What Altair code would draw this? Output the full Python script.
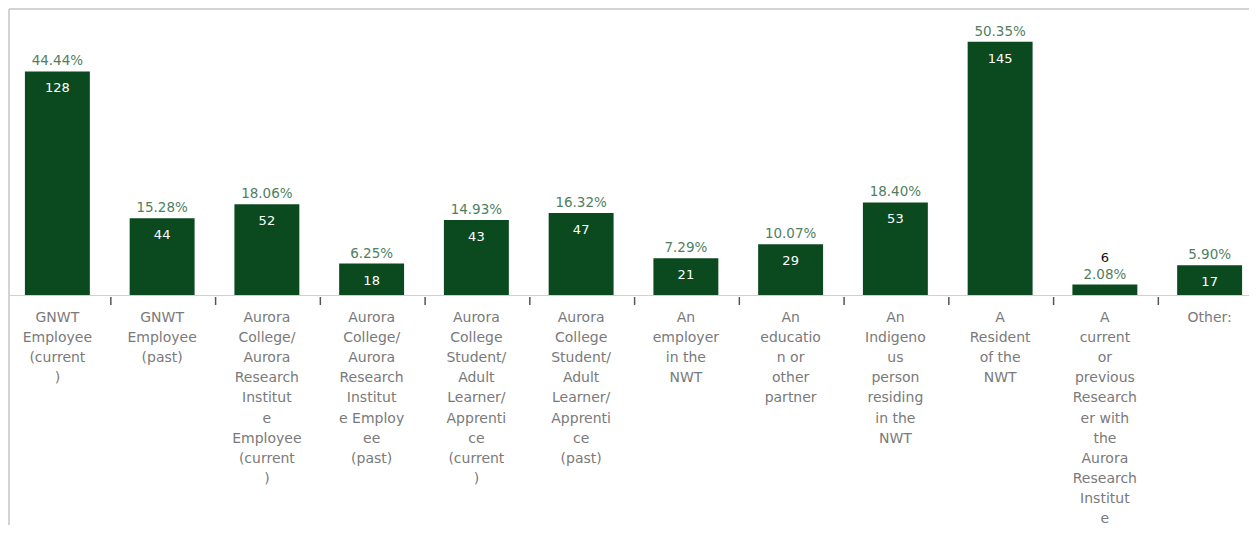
import altair as alt
import pandas as pd

categories = [
    "GNWT|Employee|(current|)",
    "GNWT|Employee|(past)",
    "Aurora|College/|Aurora|Research|Institut|e|Employee|(current|)",
    "Aurora|College/|Aurora|Research|Institut|e Employ|ee|(past)",
    "Aurora|College|Student/|Adult|Learner/|Apprenti|ce|(current|)",
    "Aurora|College|Student/|Adult|Learner/|Apprenti|ce|(past)",
    "An|employer|in the|NWT",
    "An|educatio|n or|other|partner",
    "An|Indigeno|us|person|residing|in the|NWT",
    "A|Resident|of the|NWT",
    "A|current|or|previous|Research|er with|the|Aurora|Research|Institut|e",
    "Other:",
]
counts = [128, 44, 52, 18, 43, 47, 21, 29, 53, 145, 6, 17]
percents = ["44.44%", "15.28%", "18.06%", "6.25%", "14.93%", "16.32%",
            "7.29%", "10.07%", "18.40%", "50.35%", "2.08%", "5.90%"]

df = pd.DataFrame({"cat": categories, "count": counts, "pct": percents})

FONT = "DejaVu Sans"
BAR = "#0b4a1f"
PCT = "#4f7f5f"

xscale = alt.Scale(range=[-3, 1254], paddingInner=0.38, paddingOuter=0.19)
x = alt.X("cat:N", sort=None, title=None, scale=xscale,
          axis=alt.Axis(labelExpr="split(datum.label, '|')", labelAngle=0,
                        labelFont=FONT, labelFontSize=14, labelColor="#7a7a7a",
                        labelLineHeight=20.2, labelPadding=15, labelBaseline="top",
                        ticks=False,
                        domainColor="#d0d0d0", domainWidth=1, labelLimit=200))
y = alt.Y("count:Q", scale=alt.Scale(domain=[0, 150]), axis=None)

base = alt.Chart(df)

bars = base.mark_bar(color=BAR).encode(x=x, y=y)

# axis ticks between categories (below the baseline, at band boundaries)
ticks = base.transform_filter("datum.cat != 'Other:'").mark_rule(
    color="#555555", strokeWidth=1.5, xOffset=21).encode(
    x=alt.X("cat:N", sort=None, scale=xscale, bandPosition=1),
    y=alt.value(264), y2=alt.value(272))

pct = base.mark_text(font=FONT, fontSize=13.5, color=PCT, baseline="middle", dy=-10).encode(
    x=x, y=y, text="pct:N")

inside = base.transform_filter("datum.count >= 10").mark_text(
    font=FONT, fontSize=13, color="white", baseline="middle", dy=17).encode(
    x=x, y=y, text="count:Q")

outside = base.transform_filter("datum.count < 10").mark_text(
    font=FONT, fontSize=13, color="#111111", baseline="middle", dy=-27).encode(
    x=x, y=y, text="count:Q")

top_rule = base.mark_rule(color="#d4d4d4", strokeWidth=2).encode(
    x=alt.value(1), x2=alt.value(1241), y=alt.value(-24))
left_rule = base.mark_rule(color="#d4d4d4", strokeWidth=2).encode(
    x=alt.value(1), y=alt.value(-24), y2=alt.value(492))

chart = alt.layer(top_rule, left_rule, bars, ticks, pct, inside, outside).properties(
    width=1241, height=262,
    autosize=alt.AutoSizeParams(type="none"),
    padding={"left": 0, "right": 0, "top": 25, "bottom": 230},
    background="white",
).configure_view(stroke=None)

chart.save("out.html", embed_options={"renderer": "svg", "actions": False})
